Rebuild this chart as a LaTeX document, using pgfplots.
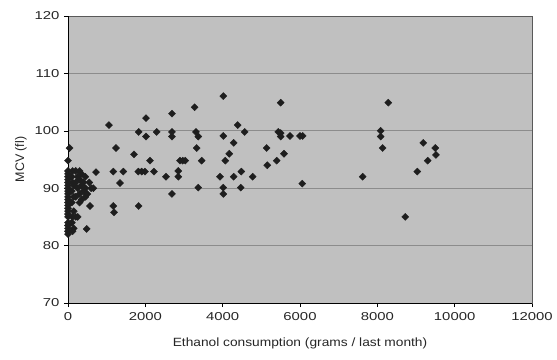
\documentclass[border=0pt]{standalone}
\usepackage{fontspec}
\setmainfont{Liberation Sans}
\usepackage{pgfplots}
\pgfplotsset{compat=1.18}
\definecolor{bgc}{HTML}{C0C0C0}
\definecolor{gridc}{HTML}{8C8C8C}
\definecolor{mk}{HTML}{1E1E1E}
\begin{document}
\begin{tikzpicture}
\useasboundingbox (-68bp,-57bp) rectangle (489bp,303bp);
\begin{axis}[
  scale only axis,
  width=464bp, height=287bp,
  xmin=0, xmax=12000, ymin=70, ymax=120,
  xtick={0,2000,...,12000}, ytick={70,80,...,120},
  scaled x ticks=false,
  /pgf/number format/1000 sep={},
  /pgf/number format/assume math mode=true,
  tick align=outside, xtick pos=bottom, ytick pos=left,
  major tick length=4bp,
  tick style={black, line width=0.6pt},
  ymajorgrids, grid style={draw=gridc, line width=0.9pt},
  axis background/.style={fill=bgc},
  axis line style={draw=gray!70!black, line width=0.8pt},
  every tick label/.append style={font=\fontsize{11.5}{13}\selectfont, xscale=1.3, text=black!85},
  xticklabel style={yshift=-2bp},
  xlabel={Ethanol consumption (grams / last month)},
  ylabel={MCV (fl)},
  xlabel style={font=\fontsize{12}{14}\selectfont, xscale=1.15, yshift=-10bp, text=black!85},
  ylabel style={font=\fontsize{12.5}{14}\selectfont, yshift=0bp, text=black!85},
]
\addplot[only marks, mark=square*, mark size=2.5pt, mark options={rotate=45, fill=mk, draw=mk}] coordinates {
(40,97.0)(0,94.8)
(0,93.0)(0,92.5)(0,92.0)(0,91.5)(0,91.0)(0,90.5)(0,90.0)(0,89.5)(0,89.0)(0,88.5)(0,88.0)(0,87.5)(0,87.0)(0,86.5)(0,86.0)(0,85.5)(0,85.0)(0,84.0)(0,83.5)(0,83.0)(0,82.5)(0,82.0)
(120,93.0)(100,92.0)(120,91.0)(150,90.5)(100,89.5)(150,88.5)(100,87.5)(150,86.0)(120,85.0)(200,85.0)(250,85.0)(100,84.0)(150,83.0)(120,82.5)
(200,93.0)(300,93.0)(250,92.0)(350,92.5)(200,91.0)(300,91.5)(400,91.0)(450,92.0)(250,90.0)(350,90.5)(450,90.0)(550,91.0)(600,90.0)(300,89.0)(400,89.5)(500,89.0)(200,88.5)(350,88.0)(450,88.5)(300,87.5)(654,90.0)(569,86.9)(724,92.8)(484,82.9)
(1060,101.0)(2017,102.2)(1828,99.8)(2017,99.0)(2294,99.8)(1241,97.0)(1707,95.9)(2120,94.8)(1171,92.9)(1430,92.9)(1818,92.9)(1906,92.9)(1991,92.9)(2224,92.9)(1345,90.9)(1171,86.9)(1190,85.8)(1828,86.9)
(2689,103.0)(3276,104.1)(4016,106.05)(5500,104.9)(2689,99.8)(2689,99.0)(3310,99.8)(3370,99.0)(4016,99.1)(4388,101.0)(4569,99.8)(5438,99.8)(5500,99.6)(5500,99.0)(5741,99.1)(6000,99.1)(6069,99.1)(3328,97.0)(4285,97.9)(4171,96.0)(4068,94.8)(2896,94.8)(2966,94.8)(3033,94.8)(3457,94.8)(5138,97.0)(5586,96.0)(5397,94.8)(5154,94.0)(2852,93.0)(2534,92.0)(2852,92.0)(3931,92.0)(4285,92.0)(4482,92.9)(4776,92.0)(3370,90.1)(2689,89.0)(4016,90.1)(4016,89.0)(4466,90.1)(6059,90.8)
(8283,104.9)(8086,100.0)(8086,99.0)(8138,97.0)(7621,92.0)(9188,97.9)(9498,97.0)(9516,95.8)(9302,94.8)(9033,92.9)(8722,85.0)
};
\draw[black, line width=0.8pt] (rel axis cs:0,1) -- (rel axis cs:0,0) -- (rel axis cs:1,0);
\end{axis}
\end{tikzpicture}
\end{document}
